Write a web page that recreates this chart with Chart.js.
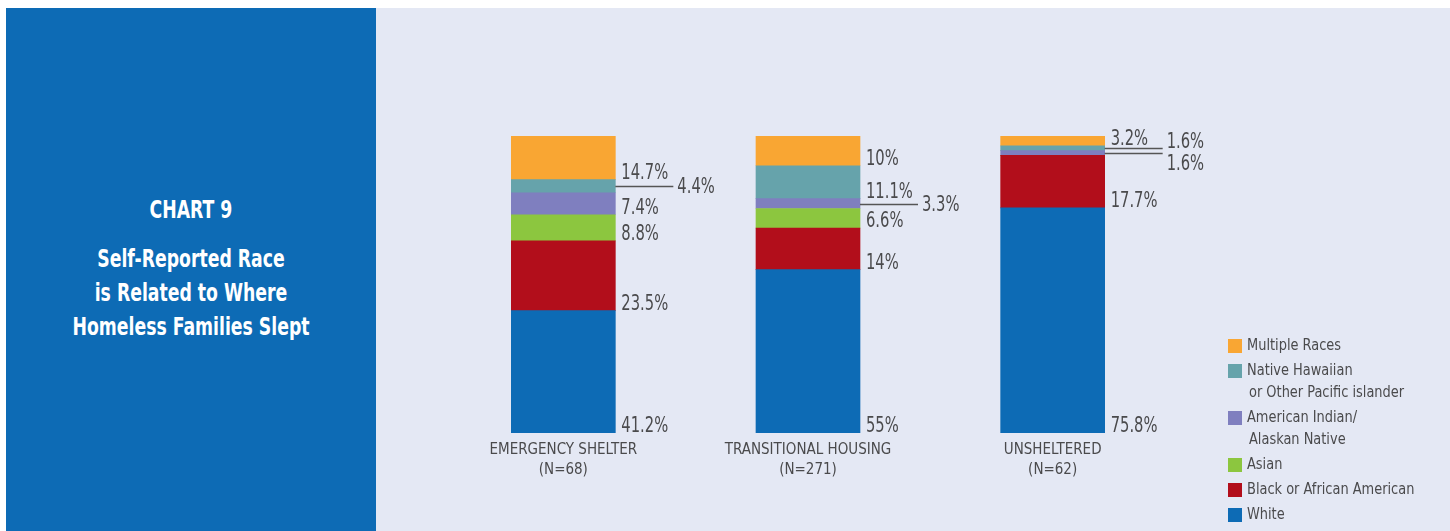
<!DOCTYPE html>
<html>
<head>
<meta charset="utf-8">
<script src="https://cdn.jsdelivr.net/npm/chart.js@4/dist/chart.umd.min.js"></script>
<style>
  html, body { margin: 0; padding: 0; background: #fff; }
  body { width: 1450px; height: 531px; position: relative; overflow: hidden; }
  #side {
    position: absolute; left: 6px; top: 8px; width: 370px; height: 523px;
    background: #0d6bb5; color: #fff;
    font-family: "Liberation Sans Narrow", "DejaVu Sans Condensed", sans-serif;
    font-weight: bold; text-align: center;
  }
  #side div { position: absolute; left: 0; width: 100%; font-size: 24px; transform: scaleX(0.8); }
  #side .num { top: 188px; }
  #side .ttl { top: 234px; line-height: 34px; }
  #wrap { position: absolute; left: 376px; top: 8px; width: 1074px; height: 523px; background: #e4e8f4; }
</style>
</head>
<body>
<div id="side">
  <div class="num">CHART 9</div>
  <div class="ttl">Self-Reported Race<br>is Related to Where<br>Homeless Families Slept</div>
</div>
<div id="wrap"><canvas id="firstChart" width="1074" height="523"></canvas></div>
<script>
const FONT = '"Liberation Sans Narrow", "DejaVu Sans Condensed", sans-serif';
const TEXT = '#4a4a4c';

const categories = [['EMERGENCY SHELTER', '(N=68)'], ['TRANSITIONAL HOUSING', '(N=271)'], ['UNSHELTERED', '(N=62)']];

// stacked bottom to top
const white    = [41.2, 55, 75.8];
const black    = [23.5, 14, 17.7];
const asian    = [8.8, 6.6, 0];
const amIndian = [7.4, 3.3, 1.6];
const hawaiian = [4.4, 11.1, 1.6];
const multiple = [14.7, 10, 3.2];

const seriesNames = [
    ['White'],
    ['Black or African American'],
    ['Asian'],
    ['American Indian/', 'Alaskan Native'],
    ['Native Hawaiian', 'or Other Pacific islander'],
    ['Multiple Races']
];
const colors = ['#0d6bb5', '#b20e1b', '#8cc63f', '#7f7fbf', '#66a3ab', '#f9a633'];

// small slices get a leader line: [dataset, category, where the text sits]
const callouts = [[4, 0, 'middle'], [3, 1, 'middle'], [4, 2, 'above'], [3, 2, 'below']];

// narrow text: the condensed face here is wider than the original one
function narrowText(ctx, txt, x, y, sx) {
    ctx.save();
    ctx.translate(x, y);
    ctx.scale(sx, 1);
    ctx.fillText(txt, 0, 0);
    ctx.restore();
}

const valueLabels = {
    id: 'valueLabels',
    afterDatasetsDraw(chart) {
        const ctx = chart.ctx;
        ctx.save();
        ctx.font = '21px ' + FONT;
        ctx.fillStyle = TEXT;
        ctx.strokeStyle = '#555';
        ctx.lineWidth = 1.5;
        ctx.textAlign = 'left';
        chart.data.datasets.forEach((ds, i) => {
            const meta = chart.getDatasetMeta(i);
            meta.data.forEach((bar, j) => {
                const v = ds.data[j];
                if (!v) return;
                const right = bar.x + bar.width / 2;
                const txt = v + '%';
                const c = callouts.find(k => k[0] === i && k[1] === j);
                if (c) {
                    const ly = Math.round((bar.y + bar.base) / 2) + 0.5;
                    ctx.beginPath();
                    ctx.moveTo(right, ly);
                    ctx.lineTo(right + 58, ly);
                    ctx.stroke();
                    if (c[2] === 'middle') { ctx.textBaseline = 'middle'; narrowText(ctx, txt, right + 62, ly + 1, 0.78); }
                    else if (c[2] === 'above') { ctx.textBaseline = 'alphabetic'; narrowText(ctx, txt, right + 62, ly - 1, 0.78); }
                    else { ctx.textBaseline = 'top'; narrowText(ctx, txt, right + 62, ly + 1, 0.78); }
                } else {
                    ctx.textBaseline = 'alphabetic';
                    narrowText(ctx, txt, right + 6, bar.base - 1, 0.78);
                }
            });
        });
        ctx.restore();
    }
};

const sideLegend = {
    id: 'sideLegend',
    afterDraw(chart) {
        const ctx = chart.ctx;
        ctx.save();
        ctx.font = '16px ' + FONT;
        ctx.textBaseline = 'middle';
        ctx.textAlign = 'left';
        let y = 338;
        for (let i = chart.data.datasets.length - 1; i >= 0; i--) {
            const ds = chart.data.datasets[i];
            ctx.fillStyle = ds.backgroundColor;
            ctx.fillRect(852, y - 7, 14, 14);
            ctx.fillStyle = TEXT;
            seriesNames[i].forEach((line, k) => {
                narrowText(ctx, line, k === 0 ? 871 : 873, y + k * 22, 0.9);
            });
            y += 25 + (seriesNames[i].length - 1) * 22;
        }
        ctx.restore();
    }
};

const datasets = [white, black, asian, amIndian, hawaiian, multiple].map((d, i) => ({
    label: seriesNames[i].join(' '),
    data: d,
    backgroundColor: colors[i],
    borderWidth: 0,
    barThickness: 104
}));

const ctx = document.getElementById('firstChart');
const chart = new Chart(ctx, {
    type: 'bar',
    data: { labels: categories, datasets: datasets },
    options: {
        responsive: false,
        animation: false,
        layout: { padding: { left: 65, right: 275, top: 128, bottom: 44 } },
        plugins: { legend: { display: false }, tooltip: { enabled: false } },
        scales: {
            x: {
                stacked: true,
                grid: { display: false, drawTicks: false },
                border: { display: false },
                ticks: { color: TEXT, font: { family: FONT, size: 15, lineHeight: 1.33 }, padding: 7, maxRotation: 0, autoSkip: false }
            },
            y: { stacked: true, display: false, min: 0, max: 100 }
        }
    },
    plugins: [valueLabels, sideLegend]
});
</script>
</body>
</html>
